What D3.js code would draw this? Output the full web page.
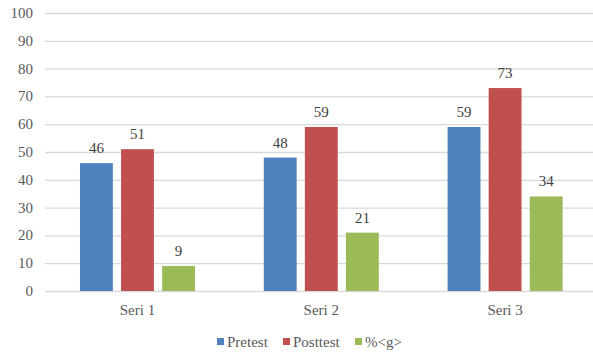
<!DOCTYPE html>
<html>
<head>
<meta charset="utf-8">
<script src="https://cdn.jsdelivr.net/npm/d3@7"></script>
<style>
body{margin:0;background:#fff;}
svg{display:block;}
svg text{font-family:"Liberation Serif","DejaVu Serif",serif;}
</style>
</head>
<body>
<div id="chart"></div>
<script>
let chart_width = 593;
let chart_height = 355;

let categories = ['Seri 1','Seri 2','Seri 3'];
let series = ['Pretest','Posttest','%<g>'];
let pretest = [46,48,59];
let posttest = [51,59,73];
let gain = [9,21,34];
let colors = ['#4F81BD','#C0504D','#9BBB59'];
let y_ticks = [0,10,20,30,40,50,60,70,80,90,100];

let values = [pretest,posttest,gain];

const svg = d3.select('#chart')
    .append('svg')
    .attr('width',chart_width)
    .attr('height',chart_height);

const x0 = d3.scaleBand().domain(categories).range([45.6,597]);
const x1 = d3.scaleBand().domain(series).range([0,x0.bandwidth()])
    .paddingInner(0.2).paddingOuter(0.837);
const yScale = d3.scaleLinear().domain([0,100]).range([291,13]);

// grid + y labels
const grid = svg.append('g');
grid.selectAll('line')
    .data(y_ticks)
    .enter()
    .append('line')
    .attr('x1',45)
    .attr('x2',chart_width)
    .attr('y1',d=>yScale(d)+0.5)
    .attr('y2',d=>yScale(d)+0.5)
    .attr('stroke','#D9D9D9')
    .attr('stroke-width',1.3);

grid.selectAll('text')
    .data(y_ticks)
    .enter()
    .append('text')
    .text(d=>d)
    .attr('x',33)
    .attr('y',d=>yScale(d)+5)
    .attr('text-anchor','end')
    .attr('fill','#595959')
    .style('font-size','15px');

// bars
series.forEach(function(s,i){
    let g = svg.append('g').attr('class','bars_'+i);
    g.selectAll('rect')
        .data(values[i])
        .enter()
        .append('rect')
        .attr('x',(d,j)=>x0(categories[j])+x1(s))
        .attr('width',x1.bandwidth())
        .attr('y',d=>yScale(d))
        .attr('height',d=>yScale(0)-yScale(d))
        .attr('fill',colors[i]);

    g.selectAll('text')
        .data(values[i])
        .enter()
        .append('text')
        .text(d=>d)
        .attr('x',(d,j)=>x0(categories[j])+x1(s)+x1.bandwidth()/2)
        .attr('y',d=>yScale(d)-10)
        .attr('text-anchor','middle')
        .attr('fill','#404040')
        .style('font-size','15px');
});

// category labels
svg.append('g')
    .selectAll('text')
    .data(categories)
    .enter()
    .append('text')
    .text(d=>d)
    .attr('x',d=>x0(d)+x0.bandwidth()/2)
    .attr('y',315)
    .attr('text-anchor','middle')
    .attr('fill','#595959')
    .style('font-size','15px');

// legend
let legend_x = [217,283,355];
const legend = svg.append('g');
series.forEach(function(s,i){
    legend.append('rect')
        .attr('x',legend_x[i])
        .attr('y',338)
        .attr('width',7)
        .attr('height',7)
        .attr('fill',colors[i]);
    legend.append('text')
        .text(s)
        .attr('x',legend_x[i]+10)
        .attr('y',347)
        .attr('fill','#595959')
        .style('font-size','15px');
});
</script>
</body>
</html>
